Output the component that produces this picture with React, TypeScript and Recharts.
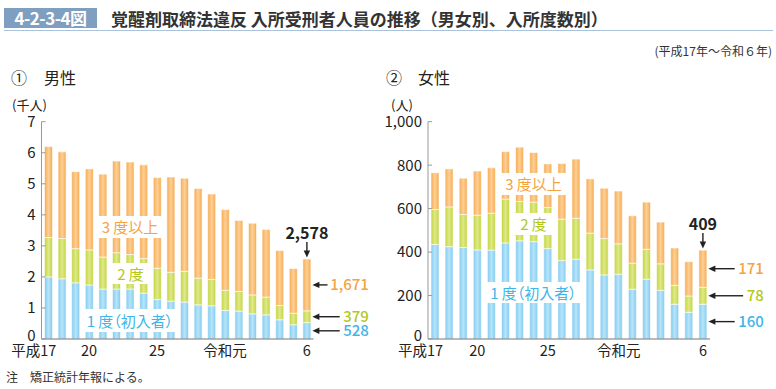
import React from 'react';
import { BarChart, Bar, XAxis, YAxis, LabelList } from 'recharts';

const FONT = '"Noto Sans CJK JP", "Noto Sans", sans-serif';

const years = ['平成17', '18', '19', '20', '21', '22', '23', '24', '25', '26', '27', '28', '29', '30', '令和元', '2', '3', '4', '5', '6'];
const shownYearTicks = ['平成17', '20', '25', '令和元', '6'];

// 男性（千人）
const maleFirst = [2.0, 1.94, 1.81, 1.74, 1.61, 1.61, 1.61, 1.48, 1.27, 1.22, 1.19, 1.1, 1.07, 0.92, 0.9, 0.81, 0.78, 0.62, 0.46, 0.528];
const maleSecond = [1.27, 1.3, 1.1, 1.13, 1.03, 1.17, 1.11, 1.11, 1.01, 0.93, 0.99, 0.86, 0.85, 0.65, 0.63, 0.61, 0.57, 0.46, 0.37, 0.379];
const maleThird = [2.93, 2.79, 2.48, 2.61, 2.67, 2.95, 2.98, 3.02, 2.92, 3.07, 3.0, 2.89, 2.75, 2.6, 2.29, 2.31, 2.18, 1.77, 1.44, 1.671];
const maleTicks = [0, 1, 2, 3, 4, 5, 6, 7];

// 女性（人）
const femaleFirst = [435, 425, 421, 410, 409, 442, 452, 448, 416, 361, 367, 318, 295, 298, 229, 275, 224, 160, 123, 160];
const femaleSecond = [161, 183, 152, 160, 170, 202, 181, 182, 189, 191, 189, 169, 167, 140, 120, 138, 122, 87, 75, 78];
const femaleThird = [169, 175, 167, 203, 209, 218, 250, 228, 201, 256, 272, 250, 232, 243, 218, 217, 192, 172, 158, 171];
const femaleTicks = [0, 200, 400, 600, 800, 1000];

const ORANGE_TXT = '#f5a33f';
const GREEN_TXT = '#b3c81c';
const BLUE_TXT = '#3fb5e8';

const build = (a: number[], b: number[], c: number[]) =>
  years.map((y, i) => ({ year: y, first: a[i], second: b[i], third: c[i] }));

const maleData = build(maleFirst, maleSecond, maleThird);
const femaleData = build(femaleFirst, femaleSecond, femaleThird);

const fmtThousands = (v: number) => Math.round(v * 1000).toLocaleString('en-US');
const fmtPlain = (v: number) => Math.round(v).toLocaleString('en-US');

const YTick = (props: any) => {
  const { x, y, payload, fmt } = props;
  const lift = payload.value === 0 ? -3 : 0;
  return (
    <g>
      <line x1={x + 6} x2={x + 10} y1={y} y2={y} stroke="#999" strokeWidth={1} />
      <text x={x} y={y + lift} dy="0.36em" textAnchor="end" fontSize={15} fill="#222" fontFamily={FONT}>
        {fmt(payload.value)}
      </text>
    </g>
  );
};

const XTick = (props: any) => {
  const { x, y, payload } = props;
  const v = String(payload.value);
  if (!shownYearTicks.includes(v)) return <g />;
  const prefixed = v.length > 2;
  return (
    <text
      x={prefixed ? x + 8 : x}
      y={y + 17}
      textAnchor={prefixed ? 'end' : 'middle'}
      fontSize={14.5}
      fill="#222"
      fontFamily={FONT}
    >
      {v}
    </text>
  );
};

const LeftArrow = ({ tip, tail, y }: { tip: number; tail: number; y: number }) => (
  <g>
    <line x1={tip + 5} x2={tail} y1={y} y2={y} stroke="#222" strokeWidth={1.4} />
    <path d={`M${tip},${y} L${tip + 7},${y - 3.2} L${tip + 7},${y + 3.2} Z`} fill="#222" />
  </g>
);

const textWidth = (s: string) => {
  let w = 0;
  for (const ch of s) w += ch === ',' ? 3.8 : 8.4;
  return w;
};

const makeSideLabel = (color: string, fmt: (v: number) => string, textRightOffset: number, lastIndex: number) =>
  (props: any) => {
    const { x, y, width, height, value, index } = props;
    if (index !== lastIndex) return null;
    const midY = y + height / 2;
    const right = x + width;
    const label = fmt(Number(value));
    const textRight = right + textRightOffset;
    const textStart = textRight - textWidth(label);
    return (
      <g>
        <LeftArrow tip={right + 1.5} tail={textStart - 4} y={midY} />
        <text x={textRight} y={midY} dy="0.36em" textAnchor="end" fontSize={15} fontWeight={500} fill={color} fontFamily={FONT}>
          {label}
        </text>
      </g>
    );
  };

const makeTotalLabel = (fmt: (v: number) => string, lastIndex: number, data: any[]) => (props: any) => {
  const { x, y, width, index } = props;
  if (index !== lastIndex) return null;
  const d = data[index];
  const total = d.first + d.second + d.third;
  const cx = x + width / 2;
  return (
    <g>
      <text x={cx} y={y - 20} textAnchor="middle" fontSize={16} fontWeight={700} fill="#222" fontFamily={FONT}>
        {fmt(total)}
      </text>
      <line x1={cx} x2={cx} y1={y - 17} y2={y - 6} stroke="#222" strokeWidth={1.4} />
      <path d={`M${cx},${y - 1.5} L${cx - 3.2},${y - 8.5} L${cx + 3.2},${y - 8.5} Z`} fill="#222" />
    </g>
  );
};

const Gradients = ({ id }: { id: string }) => (
  <defs>
    <linearGradient id={`o-${id}`} x1="0" x2="1" y1="0" y2="0">
      <stop offset="0%" stopColor="#f6aa50" />
      <stop offset="50%" stopColor="#fdd096" />
      <stop offset="100%" stopColor="#f6aa50" />
    </linearGradient>
    <linearGradient id={`g-${id}`} x1="0" x2="1" y1="0" y2="0">
      <stop offset="0%" stopColor="#c2d43a" />
      <stop offset="50%" stopColor="#dfe98a" />
      <stop offset="100%" stopColor="#c2d43a" />
    </linearGradient>
    <linearGradient id={`b-${id}`} x1="0" x2="1" y1="0" y2="0">
      <stop offset="0%" stopColor="#80cbf1" />
      <stop offset="50%" stopColor="#b8e4f9" />
      <stop offset="100%" stopColor="#80cbf1" />
    </linearGradient>
  </defs>
);

type PanelProps = {
  id: string;
  data: any[];
  ticks: number[];
  fmtTick: (v: number) => string;
  fmtValue: (v: number) => string;
  width: number;
  margin: { top: number; right: number; bottom: number; left: number };
  textRightOffset: number;
};

const Panel = ({ id, data, ticks, fmtTick, fmtValue, width, margin, textRightOffset }: PanelProps) => {
  const last = data.length - 1;
  return (
    <BarChart width={width} height={389} data={data} margin={margin} barSize={8}>
      <Gradients id={id} />
      <XAxis
        dataKey="year"
        interval={0}
        tickLine={false}
        tickSize={0}
        tickMargin={0}
        height={30}
        axisLine={{ stroke: '#777', strokeWidth: 1.2 }}
        tick={<XTick />}
      />
      <YAxis
        domain={[ticks[0], ticks[ticks.length - 1]]}
        ticks={ticks}
        interval={0}
        width={40}
        tickLine={false}
        tickSize={0}
        tickMargin={6}
        axisLine={{ stroke: '#999', strokeWidth: 1 }}
        tick={<YTick fmt={fmtTick} />}
      />
      <Bar dataKey="first" stackId="s" fill={`url(#b-${id})`} stroke="#ffffff" strokeWidth={0.6} isAnimationActive={false}>
        <LabelList dataKey="first" content={makeSideLabel(BLUE_TXT, fmtValue, textRightOffset, last)} />
      </Bar>
      <Bar dataKey="second" stackId="s" fill={`url(#g-${id})`} stroke="#ffffff" strokeWidth={0.6} isAnimationActive={false}>
        <LabelList dataKey="second" content={makeSideLabel(GREEN_TXT, fmtValue, textRightOffset, last)} />
      </Bar>
      <Bar dataKey="third" stackId="s" fill={`url(#o-${id})`} stroke="#ffffff" strokeWidth={0.6} isAnimationActive={false}>
        <LabelList dataKey="third" content={makeSideLabel(ORANGE_TXT, fmtValue, textRightOffset, last)} />
        <LabelList dataKey="third" content={makeTotalLabel(fmtValue, last, data)} />
      </Bar>
    </BarChart>
  );
};

const Box = ({ text, color, x, y, w, h }: { text: string; color: string; x: number; y: number; w: number; h: number }) => (
  <div
    style={{
      position: 'absolute',
      left: x,
      top: y,
      width: w,
      height: h,
      background: '#fff',
      color,
      fontSize: 15,
      lineHeight: `${h}px`,
      textAlign: 'center',
      whiteSpace: 'nowrap',
      fontFeatureSettings: '"palt"',
      zIndex: 2,
    }}
  >
    {text}
  </div>
);

const Txt = ({ x, cy, size, children, color = '#222', weight = 400, right }: any) => (
  <div
    style={{
      position: 'absolute',
      left: right === undefined ? x : undefined,
      right: right,
      top: cy - size / 2,
      fontSize: size,
      lineHeight: `${size}px`,
      color,
      fontWeight: weight,
      whiteSpace: 'nowrap',
      zIndex: 3,
    }}
  >
    {children}
  </div>
);

const maleBoxes = [
  { text: '3\u2009度以上', color: ORANGE_TXT, x: 97, y: 216, w: 66, h: 22 },
  { text: '2\u2009度', color: GREEN_TXT, x: 111, y: 263, w: 39, h: 21 },
  { text: '1\u2009度（初入者）', color: BLUE_TXT, x: 84, y: 309, w: 92, h: 23 },
];
const femaleBoxes = [
  { text: '3\u2009度以上', color: ORANGE_TXT, x: 500, y: 173, w: 67, h: 22 },
  { text: '2\u2009度', color: GREEN_TXT, x: 514, y: 213, w: 39, h: 22 },
  { text: '1\u2009度（初入者）', color: BLUE_TXT, x: 486, y: 282, w: 95, h: 21 },
];

export default function App() {
  return (
    <div
      style={{
        position: 'absolute',
        left: 0,
        top: 0,
        width: 776,
        height: 389,
        background: '#fff',
        fontFamily: FONT,
        overflow: 'hidden',
      }}
    >
      {/* header */}
      <div
        style={{
          position: 'absolute',
          left: 4,
          top: 8,
          width: 93,
          height: 20,
          background: '#7f9fc1',
          color: '#fff',
          fontWeight: 700,
          fontSize: 17,
          lineHeight: '20px',
          textAlign: 'center',
          letterSpacing: -0.5,
        }}
      >
        4-2-3-4図
      </div>
      <Txt x={111} cy={18} size={17} weight={700} color="#333">
        覚醒剤取締法違反 入所受刑者人員の推移（男女別、入所度数別）
      </Txt>
      <div style={{ position: 'absolute', left: 4, top: 30, width: 769, height: 1, background: '#a9c3dd' }} />
      <Txt right={4} cy={51} size={12} color="#333">(平成17年～令和６年)</Txt>

      <Txt x={11} cy={77} size={16} color="#222">①</Txt>
      <Txt x={44} cy={77} size={16} color="#222">男性</Txt>
      <Txt x={12} cy={104} size={13} color="#222">(千人)</Txt>

      <Txt x={386} cy={77} size={16} color="#222">②</Txt>
      <Txt x={418} cy={77} size={16} color="#222">女性</Txt>
      <Txt x={391} cy={104} size={13} color="#222">(人)</Txt>

      <div style={{ position: 'absolute', left: 0, top: 0 }}>
        <Panel
          id="m"
          data={maleData}
          ticks={maleTicks}
          fmtTick={(v) => String(v)}
          fmtValue={fmtThousands}
          width={380}
          margin={{ top: 121.7, right: 66.5, bottom: 20, left: 1.5 }}
          textRightOffset={58}
        />
      </div>
      <div style={{ position: 'absolute', left: 380, top: 0 }}>
        <Panel
          id="f"
          data={femaleData}
          ticks={femaleTicks}
          fmtTick={fmtPlain}
          fmtValue={fmtPlain}
          width={396}
          margin={{ top: 121.7, right: 66, bottom: 20, left: 8 }}
          textRightOffset={57}
        />
      </div>

      {maleBoxes.map((b, i) => (
        <Box key={`m${i}`} {...b} />
      ))}
      {femaleBoxes.map((b, i) => (
        <Box key={`f${i}`} {...b} />
      ))}

      <Txt x={6} cy={377} size={12} color="#333">注　矯正統計年報による。</Txt>
    </div>
  );
}
